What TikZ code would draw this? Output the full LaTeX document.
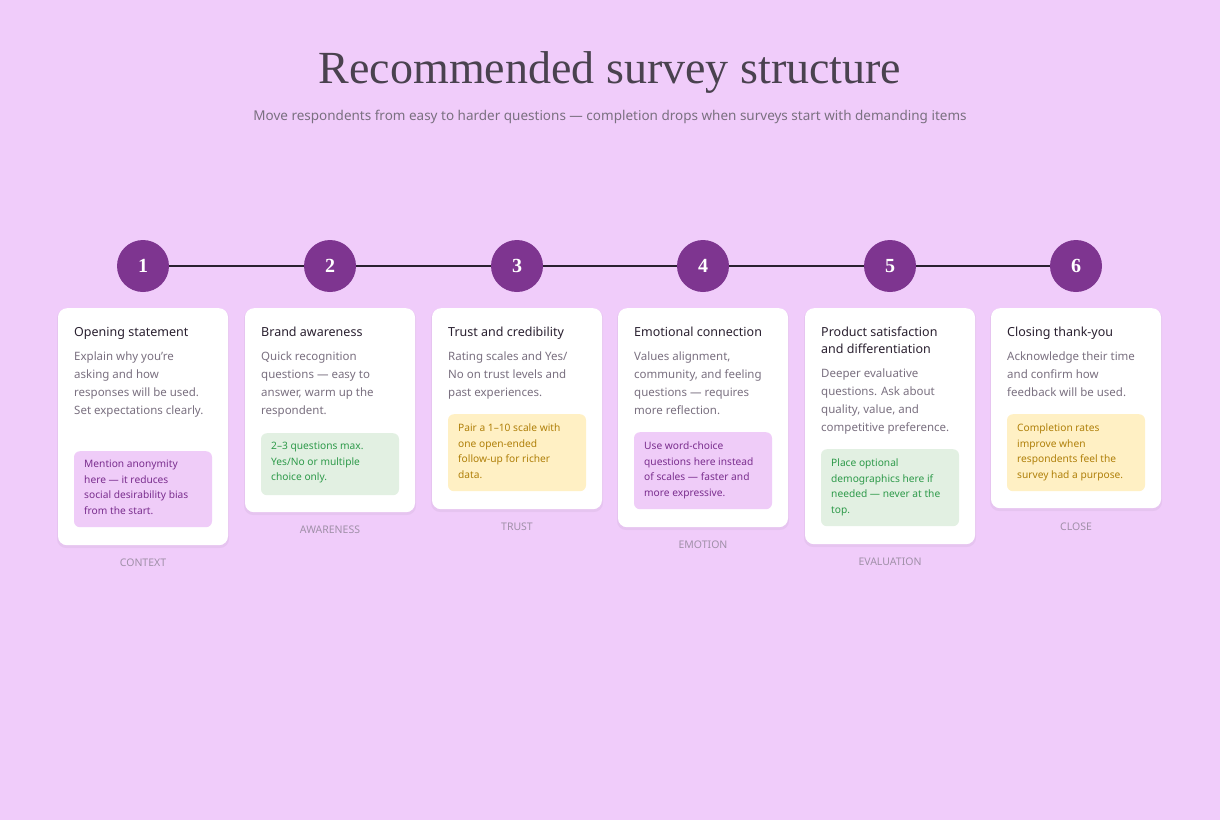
\documentclass[tikz,border=0pt]{standalone}
\usepackage{fontspec}
\setmainfont{Noto Sans}
\newfontfamily\titlefont{Liberation Serif}
\definecolor{bg}{HTML}{F0CCFA}
\definecolor{circ}{HTML}{7E3590}
\definecolor{ink}{HTML}{2A2030}
\definecolor{body}{HTML}{7A7080}
\definecolor{lbl}{HTML}{A090A8}
\definecolor{pfill}{HTML}{EFCCF8}\definecolor{ptext}{HTML}{7A2E8E}
\definecolor{gfill}{HTML}{E2F0E2}\definecolor{gtext}{HTML}{2E9A4A}
\definecolor{yfill}{HTML}{FFF0C4}\definecolor{ytext}{HTML}{B0800A}
\tikzset{
 stepcirc/.style={circle,fill=circ,minimum size=52pt,inner sep=0,text=white,font=\titlefont\fontsize{20}{20}\selectfont\bfseries},
 cardbox/.style={fill=white,rounded corners=9pt,minimum width=170pt,anchor=north,inner sep=0,draw=none},
 ctitle/.style={anchor=north west,inner sep=0,align=left,text=ink,font=\fontsize{12.5}{17}\selectfont\bfseries},
 cbody/.style={anchor=north west,inner sep=0,align=left,text=body,font=\fontsize{11.5}{18}\selectfont},
 notebox/.style={rounded corners=6pt,minimum width=138pt,anchor=north,inner sep=0},
 ntext/.style={anchor=north west,inner sep=0,align=left,font=\fontsize{10.2}{15.5}\selectfont},
 lab/.style={text=lbl,font=\fontsize{10.5}{12}\selectfont\bfseries}
}
\begin{document}
\begin{tikzpicture}[x=1pt,y=-1pt]
\fill[bg] (0,0) rectangle (1220,820);
\useasboundingbox (0,0) rectangle (1220,820);
\node[text=ink!85,font=\titlefont\fontsize{46}{50}\selectfont] (title) at (610,72) {Recommended survey structure};
\node[text=body,font=\fontsize{13.5}{16}\selectfont] (sub) at (610,117) {Move respondents from easy to harder questions — completion drops when surveys start with demanding items};
% circles
\foreach \i/\x in {1/143,2/330,3/517,4/703,5/890,6/1076}{\node[stepcirc] (s\i) at (\x,266) {\i};}
\foreach \a/\b in {1/2,2/3,3/4,4/5,5/6}{\draw[ink,line width=1.8pt] (s\a) -- (s\b);}
% cards: shadow + box
\foreach \x/\h/\n in {143/237/1,330/204/2,517/201/3,703/219/4,890/236/5,1076/200/6}{
 \fill[black,opacity=0.04,rounded corners=9pt] (\x-86,309) rectangle (\x+86,308+\h+3);
 \node[cardbox,minimum height=\h pt] (c\n) at (\x,308) {};
}
% card 1
\node[ctitle] (t1) at (74,327) {Opening statement};
\node[cbody] (b1) at (74,352) {Explain why you're\\asking and how\\responses will be used.\\Set expectations clearly.};
\node[notebox,fill=pfill,minimum height=76pt] (n1) at (143,451) {};
\node[ntext,text=ptext] at (84,460) {Mention anonymity\\here — it reduces\\social desirability bias\\from the start.};
\node[lab] (l1) at (143,563) {CONTEXT};
% card 2
\node[ctitle] (t2) at (261,327) {Brand awareness};
\node[cbody] (b2) at (261,352) {Quick recognition\\questions — easy to\\answer, warm up the\\respondent.};
\node[notebox,fill=gfill,minimum height=62pt] (n2) at (330,433) {};
\node[ntext,text=gtext] at (271,442) {2–3 questions max.\\Yes/No or multiple\\choice only.};
\node[lab] (l2) at (330,530) {AWARENESS};
% card 3
\node[ctitle] (t3) at (448,327) {Trust and credibility};
\node[cbody] (b3) at (448,352) {Rating scales and Yes/\\No on trust levels and\\past experiences.};
\node[notebox,fill=yfill,minimum height=77pt] (n3) at (517,414) {};
\node[ntext,text=ytext] at (458,424) {Pair a 1–10 scale with\\one open-ended\\follow-up for richer\\data.};
\node[lab] (l3) at (517,527) {TRUST};
% card 4
\node[ctitle] (t4) at (634,327) {Emotional connection};
\node[cbody] (b4) at (634,352) {Values alignment,\\community, and feeling\\questions — requires\\more reflection.};
\node[notebox,fill=pfill,minimum height=77pt] (n4) at (703,432) {};
\node[ntext,text=ptext] at (644,442) {Use word-choice\\questions here instead\\of scales — faster and\\more expressive.};
\node[lab] (l4) at (703,545) {EMOTION};
% card 5
\node[ctitle] (t5) at (821,327) {Product satisfaction\\and differentiation};
\node[cbody] (b5) at (821,369) {Deeper evaluative\\questions. Ask about\\quality, value, and\\competitive preference.};
\node[notebox,fill=gfill,minimum height=77pt] (n5) at (890,449) {};
\node[ntext,text=gtext] at (831,459) {Place optional\\demographics here if\\needed — never at the\\top.};
\node[lab] (l5) at (890,562) {EVALUATION};
% card 6
\node[ctitle] (t6) at (1007,327) {Closing thank-you};
\node[cbody] (b6) at (1007,352) {Acknowledge their time\\and confirm how\\feedback will be used.};
\node[notebox,fill=yfill,minimum height=77pt] (n6) at (1076,414) {};
\node[ntext,text=ytext] at (1017,424) {Completion rates\\improve when\\respondents feel the\\survey had a purpose.};
\node[lab] (l6) at (1076,527) {CLOSE};
\end{tikzpicture}
\end{document}
